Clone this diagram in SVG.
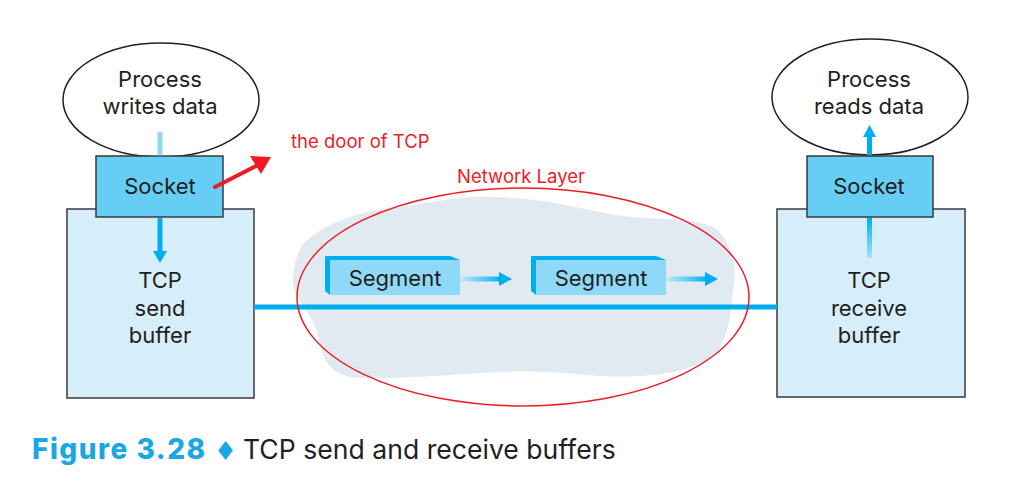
<svg xmlns="http://www.w3.org/2000/svg" width="1033" height="483" viewBox="0 0 1033 483">
<defs>
<style>
.lbl{font-family:Inter,"Open Sans","Liberation Sans",sans-serif;font-size:22px;fill:#231f20;text-anchor:middle}
.red{font-family:Inter,"Open Sans","Liberation Sans",sans-serif;font-size:18.5px;fill:#ed1c24}
.box{stroke:#3a3a3a;stroke-width:1.5}
.sock{fill:#66cdf5}
.buf{fill:#d5eefa}
.bev{fill:#00aeef}
.face{fill:#8fd9f8}
</style>
<linearGradient id="gh" x1="0" y1="0" x2="1" y2="0">
<stop offset="0" stop-color="#c3ebfc"/><stop offset="1" stop-color="#00aeef"/>
</linearGradient>
<linearGradient id="gup" x1="0" y1="1" x2="0" y2="0">
<stop offset="0" stop-color="#a7e1f9"/><stop offset="1" stop-color="#00aeef"/>
</linearGradient>
</defs>
<rect width="1033" height="483" fill="#ffffff"/>

<g id="cloud">
<path d="M300,250 C305,235 345,214 380,210 C420,205 450,197 480,197 C530,196 560,204 600,212 C640,222 690,215 715,228 C735,245 737,270 733,290 C730,320 728,345 708,360 C680,375 640,378 600,376 C560,372 520,370 480,373 C440,376 400,378 360,378 C330,377 322,360 318,335 C312,310 292,300 293,280 C294,265 296,258 300,250 Z" fill="#e1e9f1"/>
</g>

<g id="process-writes">
<ellipse cx="161" cy="100" rx="98" ry="57" fill="#ffffff" stroke="#231f20" stroke-width="1.5"/>
<text class="lbl" x="160" y="87">Process</text>
<text class="lbl" x="160" y="114">writes data</text>
</g>

<g id="send-buffer">
<rect class="box buf" x="67" y="209" width="187" height="189"/>
<text class="lbl" x="160" y="288">TCP</text>
<text class="lbl" x="160" y="316">send</text>
<text class="lbl" x="160" y="343">buffer</text>
</g>

<g id="socket-left">
<rect class="box sock" x="96" y="156" width="127" height="61"/>
<text class="lbl" x="160" y="194">Socket</text>
</g>

<g id="process-reads">
<ellipse cx="870" cy="97" rx="98" ry="58" fill="#ffffff" stroke="#231f20" stroke-width="1.5"/>
<text class="lbl" x="869" y="87">Process</text>
<text class="lbl" x="869" y="114">reads data</text>
</g>

<g id="receive-buffer">
<rect class="box buf" x="777" y="209" width="188" height="188"/>
<text class="lbl" x="869" y="288">TCP</text>
<text class="lbl" x="869" y="316">receive</text>
<text class="lbl" x="869" y="343">buffer</text>
</g>

<g id="socket-right">
<rect class="box sock" x="807" y="156" width="126" height="61"/>
<text class="lbl" x="869" y="194">Socket</text>
</g>

<g id="segment-1">
<polygon class="bev" points="325,256 450,256 460,260 330,260"/>
<polygon class="bev" points="325,256 330,260 330,295 325,291"/>
<rect class="face" x="330" y="260" width="130" height="35"/>
<text class="lbl" x="395" y="286">Segment</text>
</g>

<g id="segment-2">
<polygon class="bev" points="531,256 656,256 666,260 536,260"/>
<polygon class="bev" points="531,256 536,260 536,295 531,291"/>
<rect class="face" x="536" y="260" width="130" height="35"/>
<text class="lbl" x="601" y="286">Segment</text>
</g>

<g id="connectors">
<line x1="254" y1="307" x2="777" y2="307" stroke="#00aeef" stroke-width="5"/>
<line x1="160" y1="132" x2="160" y2="155.3" stroke="#8fd9f8" stroke-width="5"/>
<line x1="160" y1="218" x2="160" y2="253" stroke="#00aeef" stroke-width="5"/>
<polygon points="153,251 167,251 160,263" fill="#00aeef"/>
<rect x="867" y="218" width="5" height="40" fill="url(#gup)"/>
<line x1="869.5" y1="155.3" x2="869.5" y2="135" stroke="#00aeef" stroke-width="5"/>
<polygon points="863,137 876,137 869.5,125" fill="#00aeef"/>
<rect x="460" y="276.5" width="42" height="5" fill="url(#gh)"/>
<polygon points="499,272 512,279 499,286" fill="#00aeef"/>
<rect x="666" y="276.5" width="42" height="5" fill="url(#gh)"/>
<polygon points="705,272 718,279 705,286" fill="#00aeef"/>
<line x1="215" y1="187" x2="260" y2="164" stroke="#ed1c24" stroke-width="4" stroke-linecap="round"/>
<polygon points="250,156 271,157 261,174" fill="#ed1c24"/>
</g>

<g id="network-layer">
<ellipse cx="523" cy="297" rx="226" ry="109" fill="none" stroke="#ed1c24" stroke-width="1.5"/>
<text class="red" x="521" y="183" text-anchor="middle">Network Layer</text>
</g>

<g id="door-label">
<text class="red" x="291" y="148">the door of TCP</text>
</g>

<g id="caption">
<text x="32" y="459" font-family="Inter,'Open Sans','Liberation Sans',sans-serif" font-size="28" font-weight="800" letter-spacing="1.5" fill="#1ba6e6">Figure 3.28</text>
<text x="225.5" y="460" font-family="'DejaVu Sans',sans-serif" font-size="26" fill="#1ba6e6" text-anchor="middle">♦</text>
<text x="243" y="459" font-family="Inter,'Open Sans','Liberation Sans',sans-serif" font-size="26.6" fill="#231f20">TCP send and receive buffers</text>
</g>
</svg>
